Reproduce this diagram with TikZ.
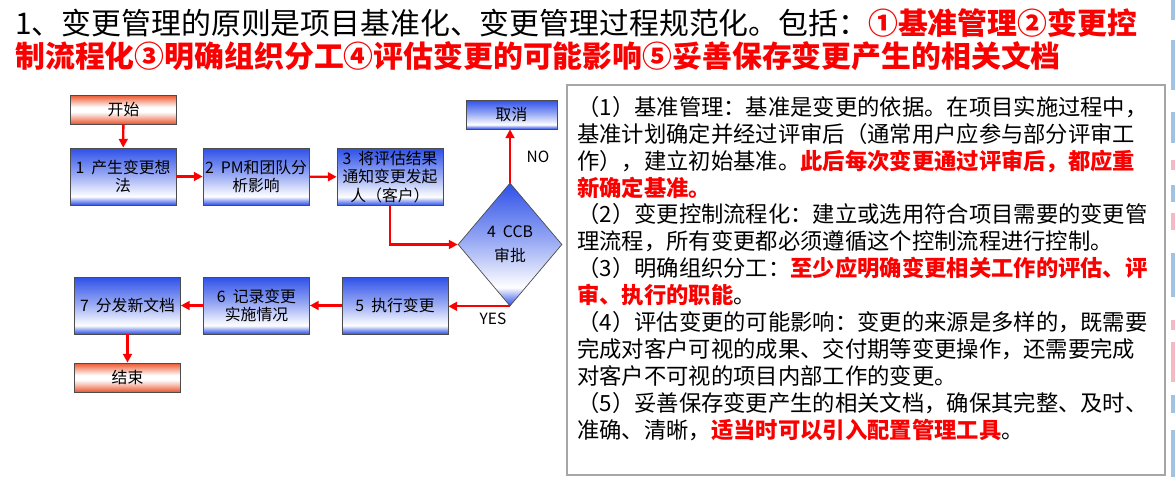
\documentclass[tikz,border=0pt]{standalone}
\usepackage{fontspec}
\setmainfont{Noto Sans CJK SC}
\usepackage{tikz}
\usetikzlibrary{positioning}
\usetikzlibrary{shapes,arrows,calc,arrows.meta}

\definecolor{bxblue}{RGB}{45,80,232}
\definecolor{bxred}{RGB}{235,85,45}
\definecolor{hlred}{RGB}{250,0,0}
\definecolor{stripblue}{RGB}{160,195,228}
\definecolor{strippink}{RGB}{245,185,195}
% the path covers 25bp..75bp of the shading
\pgfdeclareverticalshading{bluefill}{100bp}{color(0bp)=(bxblue); color(25bp)=(bxblue); color(28.5bp)=(bxblue!55!white); color(32.5bp)=(white); color(52bp)=(bxblue!50!white); color(75bp)=(bxblue); color(100bp)=(bxblue)}
\pgfdeclareverticalshading{redfill}{100bp}{color(0bp)=(bxred); color(25bp)=(bxred); color(36bp)=(bxred!45!white); color(46bp)=(white); color(54bp)=(white); color(75bp)=(bxred); color(100bp)=(bxred)}

\begin{document}
\begin{tikzpicture}[x=0.02cm,y=-0.02cm,
  step box/.style={draw=gray!60!black, line width=0.4pt, shade, shading=bluefill,
    minimum width=2.12cm, minimum height=1.14cm, inner sep=1pt, align=center,
    font=\fontsize{9}{10.6}\selectfont},
  end box/.style={draw=gray!60!black, line width=0.4pt, shade, shading=redfill,
    minimum width=2.12cm, minimum height=0.58cm, inner sep=1pt,
    font=\fontsize{9}{10.6}\selectfont},
  flow/.style={draw=hlred, line width=1.3pt, -{Triangle[length=5pt,width=5pt]}},
  answer/.style={font=\fontsize{8.8}{10}\selectfont}]
  \useasboundingbox (0,0) rectangle (1175,477);

  % Title
  \node[anchor=west, inner sep=0, font=\fontsize{17}{20}\selectfont] (t1) at (15,23)
    {1、变更管理的原则是项目基准化、变更管理过程规范化。包括：\textcolor{hlred}{\bfseries ①基准管理②变更控}};
  \node[anchor=west, inner sep=0, font=\fontsize{17}{20}\selectfont\bfseries, text=hlred] (t2) at (15,56)
    {制流程化③明确组织分工④评估变更的可能影响⑤妥善保存变更产生的相关文档};

  % Nodes
  \node[end box] (start) at (123.5,109.5) {开始};
  \node[step box] (s1) at (123,176.5) {1\ \ 产生变更想\\法};
  \node[step box] (s2) at (256,176.5) {2\ \ PM和团队分\\析影响};
  \node[step box] (s3) at (390,177) {3\ \ 将评估结果\\通知变更发起\\人（客户）};
  \node[step box, minimum width=1.82cm, minimum height=0.58cm] (cancel) at (511.5,114.5) {取消};
  \node[draw=gray!60!black, line width=0.4pt, shade, shading=bluefill, diamond, inner sep=0,
    minimum width=2.08cm, minimum height=2.46cm, align=center,
    font=\fontsize{9}{13.5}\selectfont] (ccb) at (510,244.5) {4\ \ CCB\\审批};
  \node[step box] (s5) at (395,305.5) {5\ \ 执行变更};
  \node[step box] (s6) at (256.5,305.5) {6\ \ 记录变更\\实施情况};
  \node[step box] (s7) at (127.5,305.5) {7\ \ 分发新文档};
  \node[end box] (finish) at (127.5,377.5) {结束};
  \node[answer] (no) at (538,157) {NO};
  \node[answer] (yes) at (493,319) {YES};

  % Arrows
  \draw[flow] (start) -- (s1);
  \draw[flow] (s1) -- (s2);
  \draw[flow] (s2) -- (s3);
  \draw[flow] (s3.south) |- (ccb.west);
  \draw[flow] (ccb.north) -- (ccb.north |- cancel.south);
  \draw[flow] (ccb.south) -- (s5.east |- ccb.south);
  \draw[flow] (s5) -- (s6);
  \draw[flow] (s6) -- (s7);
  \draw[flow] (s7) -- (finish);

  % Notes
  \draw[gray!70, line width=0.6pt] (567,85) rectangle (1165,475);
  \node[anchor=north west, inner sep=0, align=left, font=\fontsize{12.7}{15.3}\selectfont] (notes) at (577,96)
    {（1）基准管理：基准是变更的依据。在项目实施过程中，\\
     基准计划确定并经过评审后（通常用户应参与部分评审工\\
     作），建立初始基准。\textcolor{hlred}{\bfseries 此后每次变更通过评审后，都应重}\\
     \textcolor{hlred}{\bfseries 新确定基准。}\\
     （2）变更控制流程化：建立或选用符合项目需要的变更管\\
     理流程，所有变更都必须遵循这个控制流程进行控制。\\
     （3）明确组织分工：\textcolor{hlred}{\bfseries 至少应明确变更相关工作的评估、评}\\
     \textcolor{hlred}{\bfseries 审、执行的职能}。\\
     （4）评估变更的可能影响：变更的来源是多样的，既需要\\
     完成对客户可视的成果、交付期等变更操作，还需要完成\\
     对客户不可视的项目内部工作的变更。\\
     （5）妥善保存变更产生的相关文档，确保其完整、及时、\\
     准确、清晰，\textcolor{hlred}{\bfseries 适当时可以引入配置管理工具}。};

  % Edge strips
  \foreach \a/\b in {0/20, 40/90, 112/143, 185/202, 253/297, 395/413, 430/477}
    \fill[stripblue] (1171,\a) rectangle (1175,\b);
  \foreach \a/\b in {160/170, 213/230, 320/330, 342/382}
    \fill[strippink] (1171,\a) rectangle (1175,\b);
\end{tikzpicture}
\end{document}
